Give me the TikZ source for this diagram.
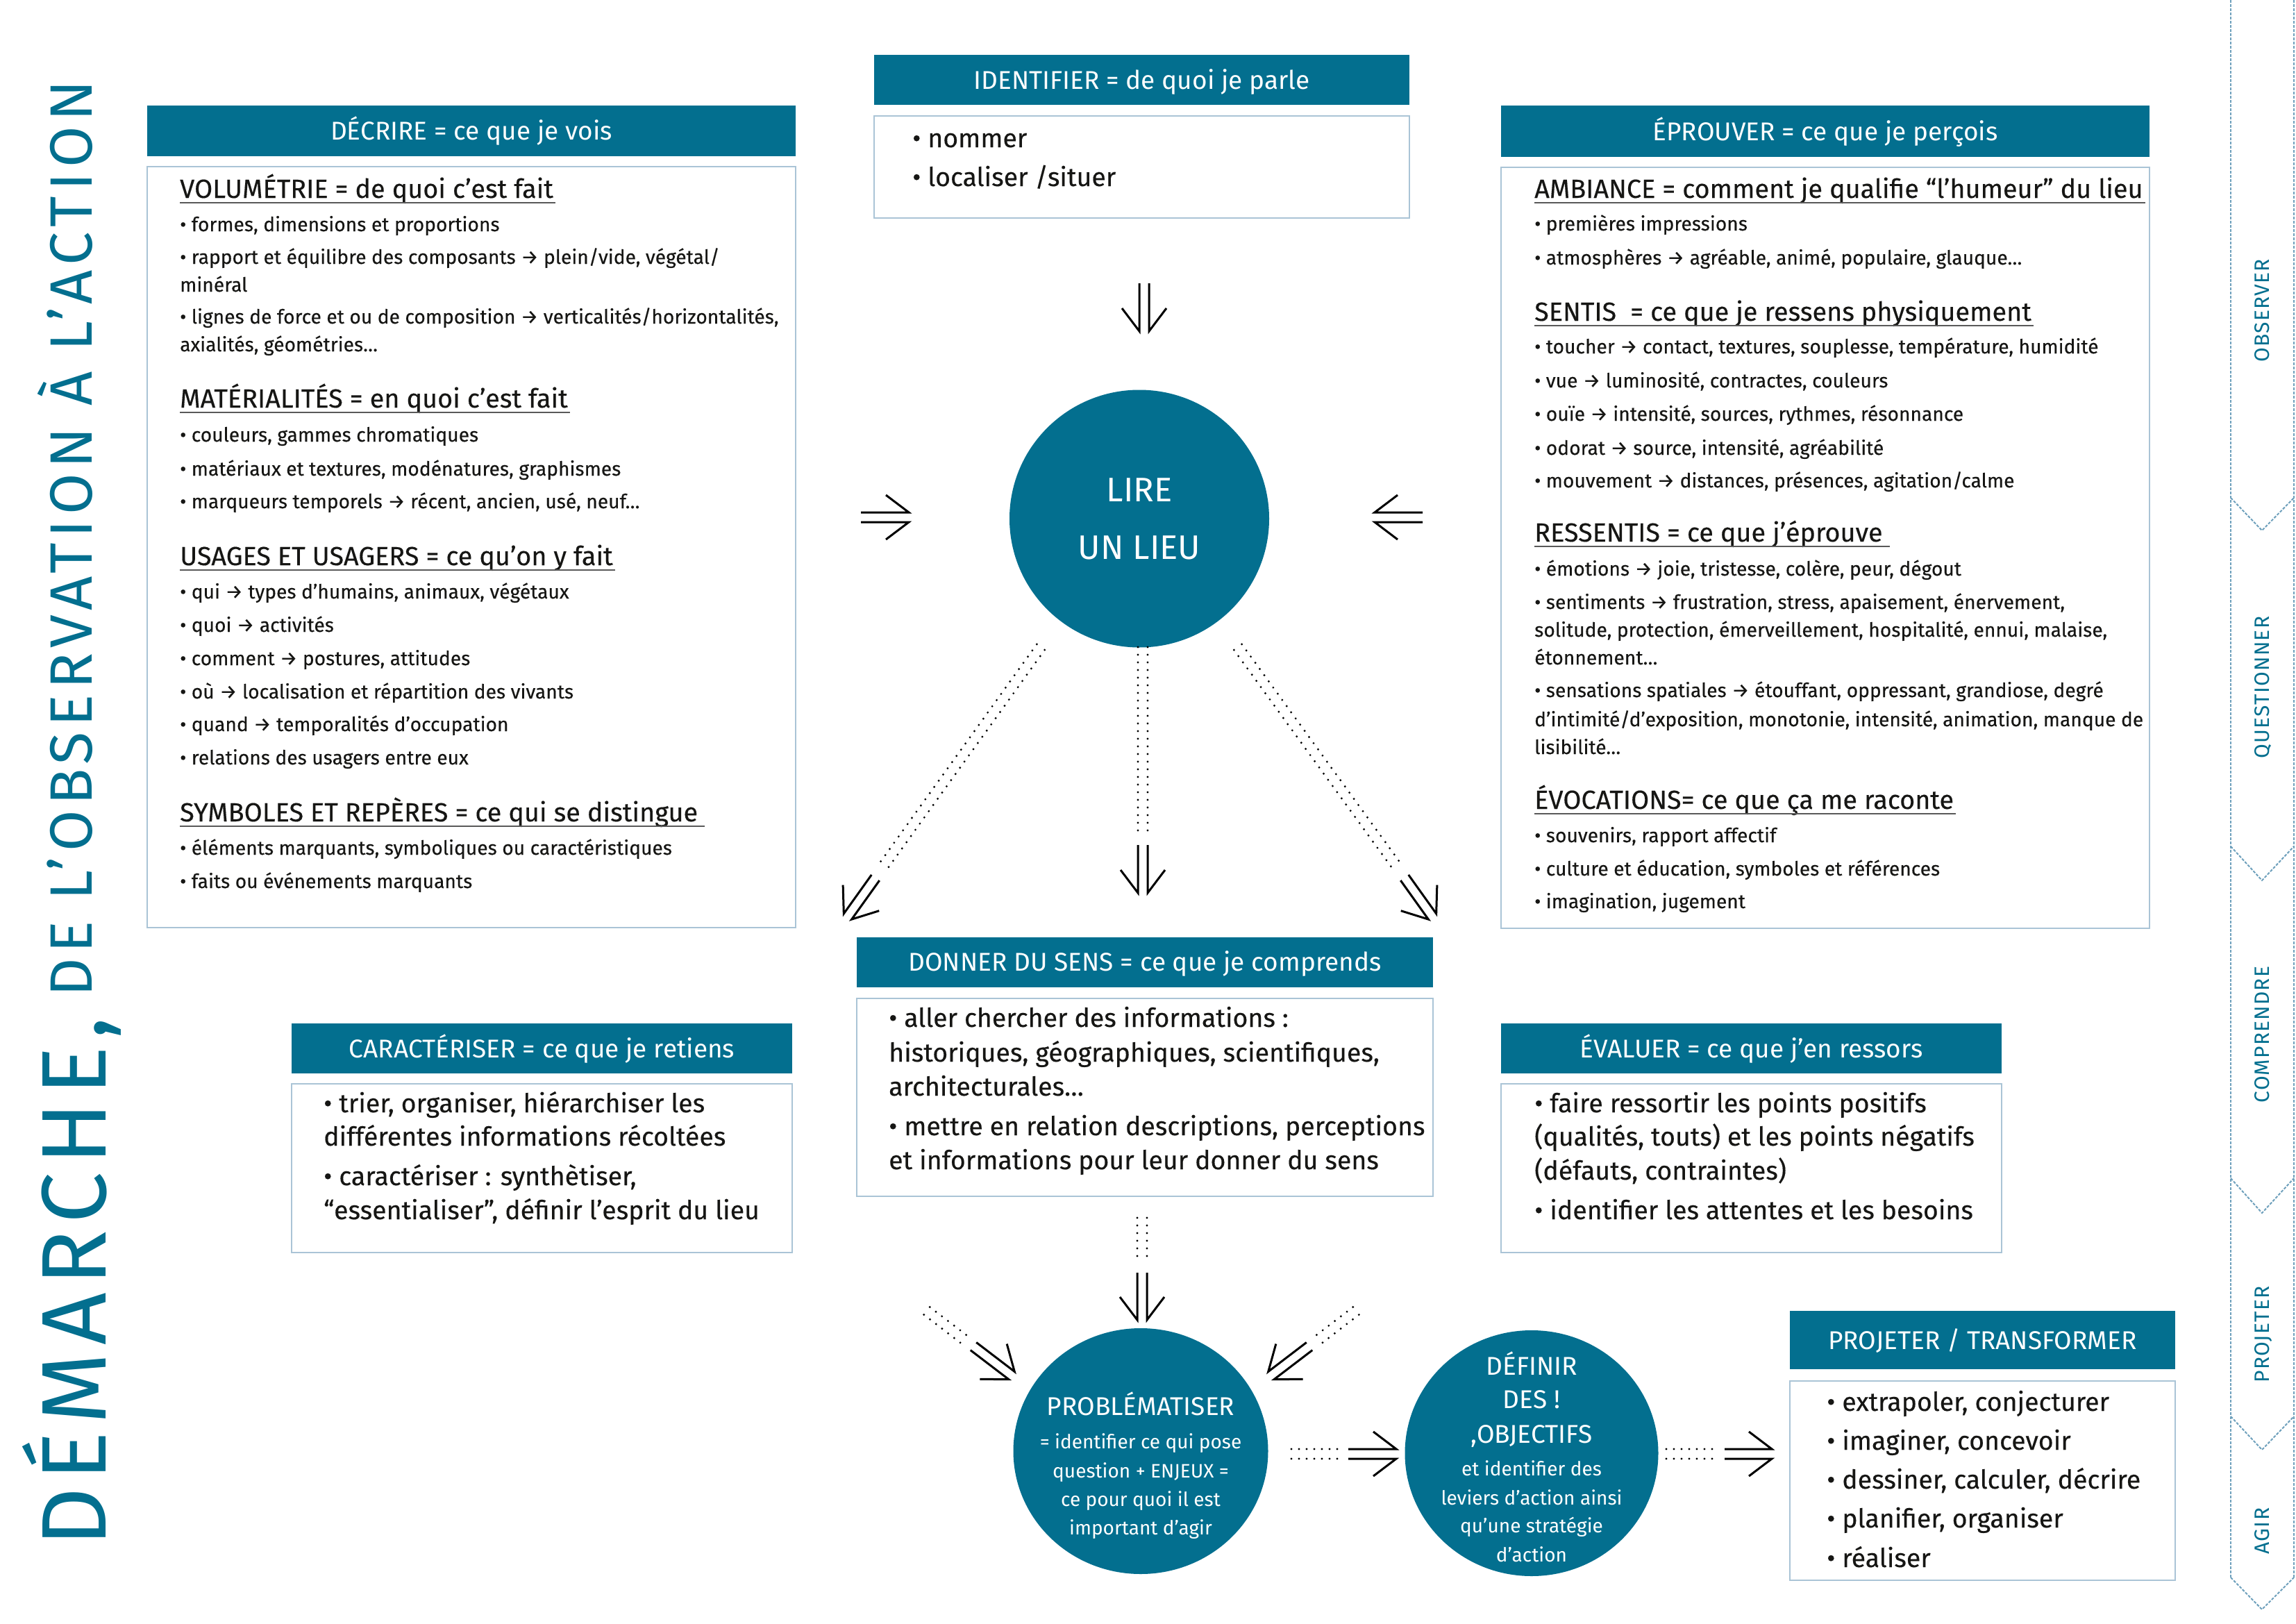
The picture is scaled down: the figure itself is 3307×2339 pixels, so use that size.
\documentclass[tikz,border=0pt]{standalone}
\usepackage{fontspec}
\setmainfont{Fira Sans}
\usetikzlibrary{calc,shapes.geometric}
\definecolor{tealc}{RGB}{3,111,143}
\definecolor{boxc}{RGB}{170,196,214}
\definecolor{txtc}{RGB}{22,22,20}
\definecolor{stripc}{RGB}{110,160,188}
\newcommand\fs[1]{\fontsize{#1}{#1}\selectfont}
\newcommand\dblarr[2]{%
  \path ($(#2)!33pt!(#1)$) coordinate (tmpb);
  \draw[arrl] ($(#1)!7pt!90:(#2)$) -- ($(#2)!7pt!-90:(#1)$) -- ($(tmpb)!32pt!-90:(#1)$);
  \draw[arrl] ($(#1)!7pt!-90:(#2)$) -- ($(#2)!7pt!90:(#1)$) -- ($(tmpb)!32pt!90:(#1)$);}
\newcommand\dbldots[2]{%
  \draw[dotl] ($(#1)!7pt!90:(#2)$) -- ($(#2)!7pt!-90:(#1)$);
  \draw[dotl] ($(#1)!7pt!-90:(#2)$) -- ($(#2)!7pt!90:(#1)$);}
\begin{document}
\begin{tikzpicture}[x=1pt,y=-1pt,
  bt/.style={anchor=base west, inner sep=0pt, text=txtc, font=\fs{28.2}\addfontfeature{FakeBold=0.3}},
  bb/.style={anchor=base west, inner sep=0pt, text=txtc, font=\fs{37.5}\addfontfeature{FakeBold=0.3}},
  hd/.style={anchor=base west, inner sep=0pt, text=txtc, font=\fs{37.8}\addfontfeature{FakeBold=0.3}},
  ul/.style={draw=black!65, line width=1.8pt},
  bar/.style={fill=tealc, text=white, inner sep=0pt, font=\fs{37}, text height=26pt, text depth=0pt},
  boxs/.style={draw=boxc, line width=2.5pt, fill=white, inner sep=0pt},
  ell/.style={ellipse, fill=tealc, inner sep=0pt},
  et/.style={anchor=base, inner sep=0pt, text=white},
  ttl/.style={anchor=base west, rotate=90, inner sep=0pt, text=tealc},
  stl/.style={anchor=base, rotate=90, inner sep=0pt, text=tealc, font=\fs{30}\addfontfeature{LetterSpace=4}},
  arrl/.style={draw=black, line width=3pt},
  dotl/.style={draw=black, line width=3.2pt, line cap=round, dash pattern=on 0pt off 11pt},
  stripl/.style={draw=stripc, line width=2pt, dash pattern=on 4pt off 2pt}]
\fill[white] (0,0) rectangle (3307,2339);
\useasboundingbox (0,0) rectangle (3307,2339);

% ---------- title ----------
\node[ttl, font=\fs{132}\addfontfeature{LetterSpace=8}] (tt1) at (152,2228) {DÉMARCHE,};
\node[ttl, font=\fs{86}\addfontfeature{LetterSpace=9}] (tt2) at (132,1436) {DE L’OBSERVATION À L’ACTION};

% ---------- right strip ----------
\draw[stripl] (3213,0) -- (3213,2272);
\draw[stripl] (3304,0) -- (3304,2272);
\draw[stripl] (3213,717) -- (3258,764) -- (3304,717);
\draw[stripl] (3213,1219) -- (3258,1268) -- (3304,1219);
\draw[stripl] (3213,1697) -- (3258,1747) -- (3304,1697);
\draw[stripl] (3213,2040) -- (3258,2088) -- (3304,2040);
\draw[stripl] (3213,2272) -- (3258,2318) -- (3304,2272);
\node[stl] (s1) at (3268,447) {OBSERVER};
\node[stl] (s2) at (3268,990) {QUESTIONNER};
\node[stl] (s3) at (3268,1490) {COMPRENDRE};
\node[stl] (s4) at (3268,1922) {PROJETER};
\node[stl] (s5) at (3268,2205) {AGIR};

% ---------- boxes ----------
\node[bar, minimum width=934pt, minimum height=73pt] (decH) at (679,188.5) {DÉCRIRE = ce que je vois};
\node[boxs, minimum width=934pt, minimum height=1096pt] (decB) at (679,788) {};
\node[bar, minimum width=771pt, minimum height=72pt] (idH) at (1644.5,115.5) {IDENTIFIER = de quoi je parle};
\node[boxs, minimum width=771pt, minimum height=147pt] (idB) at (1644.5,240.5) {};
\node[bar, minimum width=934pt, minimum height=73pt] (epH) at (2629,189) {ÉPROUVER = ce que je perçois};
\node[boxs, minimum width=934pt, minimum height=1096pt] (epB) at (2629,789) {};
\node[bar, minimum width=830pt, minimum height=72pt] (snH) at (1649,1385.5) {DONNER DU SENS = ce que je comprends};
\node[boxs, minimum width=830pt, minimum height=285pt] (snB) at (1649,1580.5) {};
\node[bar, minimum width=721pt, minimum height=72pt] (caH) at (780.5,1510) {CARACTÉRISER = ce que je retiens};
\node[boxs, minimum width=721pt, minimum height=243pt] (caB) at (780.5,1682.5) {};
\node[bar, minimum width=721pt, minimum height=72pt] (evH) at (2522.5,1510) {ÉVALUER = ce que j’en ressors};
\node[boxs, minimum width=721pt, minimum height=243pt] (evB) at (2522.5,1682.5) {};
\node[bar, minimum width=555pt, minimum height=84pt] (prH) at (2855.5,1930) {PROJETER / TRANSFORMER};
\node[boxs, minimum width=555pt, minimum height=287pt] (prB) at (2855.5,2132.5) {};

% ---------- DECRIRE text ----------
\node[hd] (dh1) at (259,285) {VOLUMÉTRIE = de quoi c’est fait};
\draw[ul] ([yshift=-7pt]dh1.base west) -- ([yshift=-7pt,xshift=3pt]dh1.base east);
\node[bt] (d1) at (259,333) {• formes, dimensions et proportions};
\node[bt] (d2) at (259,380) {• rapport et équilibre des composants → plein/vide, végétal/};
\node[bt] (d3) at (259,420) {minéral};
\node[bt] (d4) at (259,466) {• lignes de force et ou de composition → verticalités/horizontalités,};
\node[bt] (d5) at (259,506) {axialités, géométries…};
\node[hd] (dh2) at (259,587) {MATÉRIALITÉS = en quoi c’est fait};
\draw[ul] ([yshift=-7pt]dh2.base west) -- ([yshift=-7pt,xshift=3pt]dh2.base east);
\node[bt] (d6) at (259,636) {• couleurs, gammes chromatiques};
\node[bt] (d7) at (259,685) {• matériaux et textures, modénatures, graphismes};
\node[bt] (d8) at (259,732) {• marqueurs temporels → récent, ancien, usé, neuf…};
\node[hd] (dh3) at (259,814) {USAGES ET USAGERS = ce qu’on y fait};
\draw[ul] ([yshift=-7pt]dh3.base west) -- ([yshift=-7pt,xshift=3pt]dh3.base east);
\node[bt] (d9) at (259,862) {• qui → types d’humains, animaux, végétaux};
\node[bt] (d10) at (259,910) {• quoi → activités};
\node[bt] (d11) at (259,958) {• comment → postures, attitudes};
\node[bt] (d12) at (259,1006) {• où → localisation et répartition des vivants};
\node[bt] (d13) at (259,1053) {• quand → temporalités d’occupation};
\node[bt] (d14) at (259,1101) {• relations des usagers entre eux};
\node[hd] (dh4) at (259,1183) {SYMBOLES ET REPÈRES = ce qui se distingue};
\draw[ul] ([yshift=-7pt]dh4.base west) -- ([yshift=-7pt,xshift=10pt]dh4.base east);
\node[bt] (d15) at (259,1231) {• éléments marquants, symboliques ou caractéristiques};
\node[bt] (d16) at (259,1279) {• faits ou événements marquants};

% ---------- EPROUVER text ----------
\node[hd] (eh1) at (2210,285) {AMBIANCE = comment je qualifie “l’humeur” du lieu};
\draw[ul] ([yshift=-7pt]eh1.base west) -- ([yshift=-7pt,xshift=3pt]eh1.base east);
\node[bt] (e1) at (2210,332) {• premières impressions};
\node[bt] (e2) at (2210,381) {• atmosphères → agréable, animé, populaire, glauque…};
\node[hd] (eh2) at (2210,462) {SENTIS\ \ = ce que je ressens physiquement};
\draw[ul] ([yshift=-7pt]eh2.base west) -- ([yshift=-7pt,xshift=3pt]eh2.base east);
\node[bt] (e3) at (2210,509) {• toucher → contact, textures, souplesse, température, humidité};
\node[bt] (e4) at (2210,558) {• vue → luminosité, contractes, couleurs};
\node[bt] (e5) at (2210,606) {• ouïe → intensité, sources, rythmes, résonnance};
\node[bt] (e6) at (2210,655) {• odorat → source, intensité, agréabilité};
\node[bt] (e7) at (2210,702) {• mouvement → distances, présences, agitation/calme};
\node[hd] (eh3) at (2210,780) {RESSENTIS = ce que j’éprouve};
\draw[ul] ([yshift=-7pt]eh3.base west) -- ([yshift=-7pt,xshift=10pt]eh3.base east);
\node[bt] (e8) at (2210,829) {• émotions → joie, tristesse, colère, peur, dégout};
\node[bt] (e9) at (2210,877) {• sentiments → frustration, stress, apaisement, énervement,};
\node[bt] (e10) at (2210,917) {solitude, protection, émerveillement, hospitalité, ennui, malaise,};
\node[bt] (e11) at (2210,957) {étonnement…};
\node[bt] (e12) at (2210,1004) {• sensations spatiales → étouffant, oppressant, grandiose, degré};
\node[bt] (e13) at (2210,1046) {d’intimité/d’exposition, monotonie, intensité, animation, manque de};
\node[bt] (e14) at (2210,1086) {lisibilité…};
\node[hd] (eh4) at (2210,1165) {ÉVOCATIONS= ce que ça me raconte};
\draw[ul] ([yshift=-7pt]eh4.base west) -- ([yshift=-7pt,xshift=3pt]eh4.base east);
\node[bt] (e15) at (2210,1213) {• souvenirs, rapport affectif};
\node[bt] (e16) at (2210,1261) {• culture et éducation, symboles et références};
\node[bt] (e17) at (2210,1308) {• imagination, jugement};

% ---------- other boxes text ----------
\node[bb] (i1) at (1314,212) {• nommer};
\node[bb] (i2) at (1314,268) {• localiser /situer};

\node[bb] (n1) at (1280,1479) {• aller chercher des informations :};
\node[bb] (n2) at (1280,1529) {historiques, géographiques, scientifiques,};
\node[bb] (n3) at (1280,1578) {architecturales…};
\node[bb] (n4) at (1280,1635) {• mettre en relation descriptions, perceptions};
\node[bb] (n5) at (1280,1684) {et informations pour leur donner du sens};

\node[bb] (c1) at (466,1602) {• trier, organiser, hiérarchiser les};
\node[bb] (c2) at (466,1650) {différentes informations récoltées};
\node[bb] (c3) at (466,1707) {• caractériser : synthètiser,};
\node[bb] (c4) at (466,1756) {“essentialiser”, définir l’esprit du lieu};

\node[bb] (v1) at (2210,1602) {• faire ressortir les points positifs};
\node[bb] (v2) at (2210,1650) {(qualités, touts) et les points négatifs};
\node[bb] (v3) at (2210,1699) {(défauts, contraintes)};
\node[bb] (v4) at (2210,1756) {• identifier les attentes et les besoins};

\node[bb] (p1) at (2631,2032) {• extrapoler, conjecturer};
\node[bb] (p2) at (2631,2088) {• imaginer, concevoir};
\node[bb] (p3) at (2631,2144) {• dessiner, calculer, décrire};
\node[bb] (p4) at (2631,2200) {• planifier, organiser};
\node[bb] (p5) at (2631,2257) {• réaliser};

% ---------- ellipses ----------
\node[ell, minimum width=374pt, minimum height=371pt] (lire) at (1641,747) {};
\node[et, font=\fs{49}] (lt1) at (1641,722) {LIRE};
\node[et, font=\fs{49}] (lt2) at (1641,805) {UN LIEU};

\node[ell, minimum width=367pt, minimum height=354pt] (prob) at (1643,2090) {};
\node[et, font=\fs{37}] (pb1) at (1643,2038) {PROBLÉMATISER};
\node[et, font=\fs{28}] (pb2) at (1643,2086) {= identifier ce qui pose};
\node[et, font=\fs{28}] (pb3) at (1643,2128) {question + ENJEUX =};
\node[et, font=\fs{28}] (pb4) at (1643,2169) {ce pour quoi il est};
\node[et, font=\fs{28}] (pb5) at (1643,2210) {important d’agir};

\node[ell, minimum width=365pt, minimum height=354pt] (def) at (2206,2093) {};
\node[et, font=\fs{37}] (df1) at (2206,1980) {DÉFINIR};
\node[et, font=\fs{37}] (df2) at (2206,2028) {DES !};
\node[et, font=\fs{37}] (df3) at (2206,2078) {,OBJECTIFS};
\node[et, font=\fs{28}] (df4) at (2206,2125) {et identifier des};
\node[et, font=\fs{28}] (df5) at (2206,2167) {leviers d’action ainsi};
\node[et, font=\fs{28}] (df6) at (2206,2207) {qu’une stratégie};
\node[et, font=\fs{28}] (df7) at (2206,2249) {d’action};

% ---------- arrows ----------
\coordinate (a1s) at (1648,408); \coordinate (a1e) at (1648,477);
\dblarr{a1s}{a1e}
\coordinate (a2s) at (1240,745); \coordinate (a2e) at (1309,745);
\dblarr{a2s}{a2e}
\coordinate (a3s) at (2049,745); \coordinate (a3e) at (1980,745);
\dblarr{a3s}{a3e}
% from LIRE to DONNER DU SENS
\coordinate (b1a) at (1646,932); \coordinate (b1b) at (1646,1203);
\coordinate (b1c) at (1646,1217); \coordinate (b1d) at (1646,1286);
\dbldots{b1a}{b1b} \dblarr{b1c}{b1d}
\coordinate (b2a) at (1499,932); \coordinate (b2b) at (1269,1252);
\coordinate (b2c) at (1261,1264); \coordinate (b2d) at (1221,1320);
\dbldots{b2a}{b2b} \dblarr{b2c}{b2d}
\coordinate (b3a) at (1783,932); \coordinate (b3b) at (2015,1252);
\coordinate (b3c) at (2023,1264); \coordinate (b3d) at (2063,1320);
\dbldots{b3a}{b3b} \dblarr{b3c}{b3d}
% into PROBLEMATISER
\coordinate (c1a) at (1645,1754); \coordinate (c1b) at (1645,1815);
\coordinate (c1c) at (1645,1833); \coordinate (c1d) at (1645,1901);
\dbldots{c1a}{c1b} \dblarr{c1c}{c1d}
\coordinate (c2a) at (1335,1888); \coordinate (c2b) at (1391,1931);
\coordinate (c2c) at (1402,1939); \coordinate (c2d) at (1457,1981);
\dbldots{c2a}{c2b} \dblarr{c2c}{c2d}
\coordinate (c3a) at (1953,1888); \coordinate (c3b) at (1897,1931);
\coordinate (c3c) at (1886,1939); \coordinate (c3d) at (1831,1981);
\dbldots{c3a}{c3b} \dblarr{c3c}{c3d}
% PROBLEMATISER -> DEFINIR -> PROJETER
\coordinate (c4a) at (1860,2094); \coordinate (c4b) at (1930,2094);
\coordinate (c4c) at (1942,2094); \coordinate (c4d) at (2011,2094);
\dbldots{c4a}{c4b} \dblarr{c4c}{c4d}
\coordinate (c5a) at (2400,2094); \coordinate (c5b) at (2471,2094);
\coordinate (c5c) at (2484,2094); \coordinate (c5d) at (2552,2094);
\dbldots{c5a}{c5b} \dblarr{c5c}{c5d}
\end{tikzpicture}
\end{document}
